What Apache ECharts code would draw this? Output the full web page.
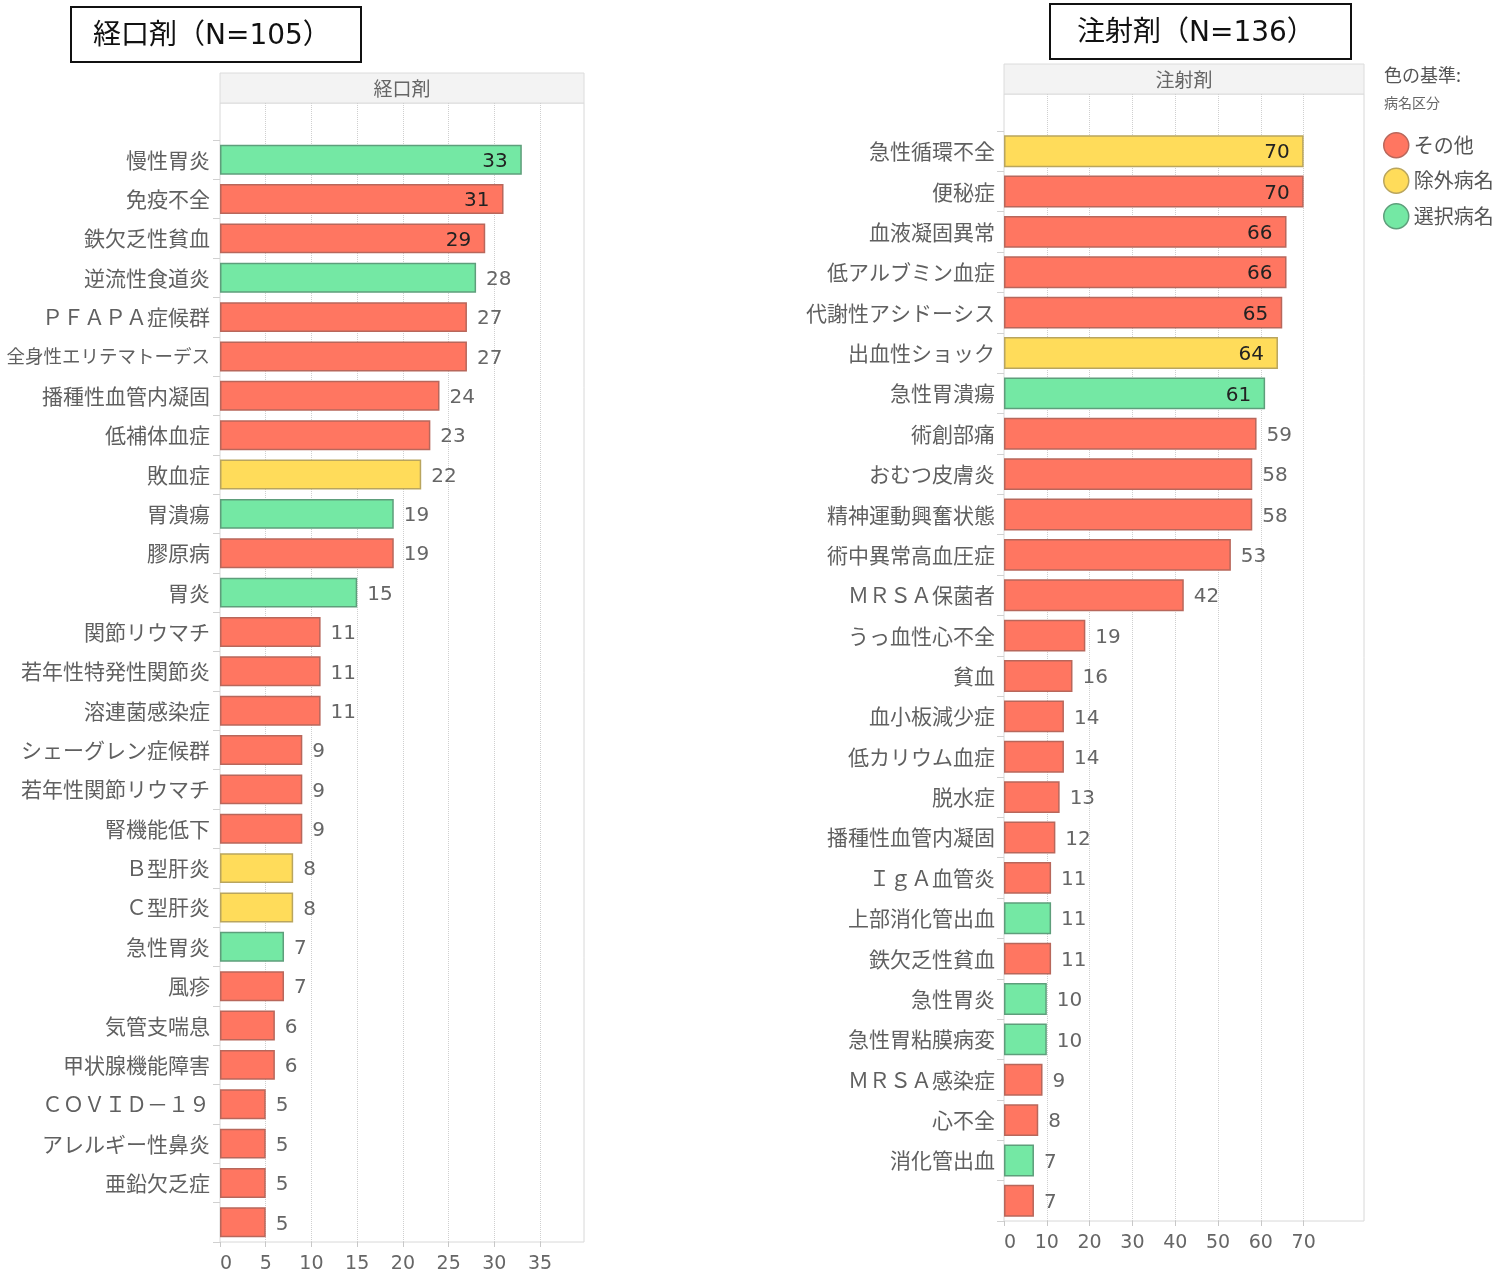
<!DOCTYPE html>
<html><head><meta charset="utf-8">
<script src="https://cdn.jsdelivr.net/npm/echarts@6/dist/echarts.min.js"></script>
<style>html,body{margin:0;padding:0;background:#fff}#c{width:1501px;height:1274px}</style>
</head><body><div id="c"></div>
<script>
// ---- Data ----
const oralCategories = ['慢性胃炎','免疫不全','鉄欠乏性貧血','逆流性食道炎','ＰＦＡＰＡ症候群','全身性エリテマトーデス','播種性血管内凝固','低補体血症','敗血症','胃潰瘍','膠原病','胃炎','関節リウマチ','若年性特発性関節炎','溶連菌感染症','シェーグレン症候群','若年性関節リウマチ','腎機能低下','Ｂ型肝炎','Ｃ型肝炎','急性胃炎','風疹','気管支喘息','甲状腺機能障害','ＣＯＶＩＤ－１９','アレルギー性鼻炎','亜鉛欠乏症',''];
const oralValues = [33,31,29,28,27,27,24,23,22,19,19,15,11,11,11,9,9,9,8,8,7,7,6,6,5,5,5,5];
const oralGroups = ['選択病名','その他','その他','選択病名','その他','その他','その他','その他','除外病名','選択病名','その他','選択病名','その他','その他','その他','その他','その他','その他','除外病名','除外病名','選択病名','その他','その他','その他','その他','その他','その他','その他'];

const injCategories = ['急性循環不全','便秘症','血液凝固異常','低アルブミン血症','代謝性アシドーシス','出血性ショック','急性胃潰瘍','術創部痛','おむつ皮膚炎','精神運動興奮状態','術中異常高血圧症','ＭＲＳＡ保菌者','うっ血性心不全','貧血','血小板減少症','低カリウム血症','脱水症','播種性血管内凝固','ＩｇＡ血管炎','上部消化管出血','鉄欠乏性貧血','急性胃炎','急性胃粘膜病変','ＭＲＳＡ感染症','心不全','消化管出血',''];
const injValues = [70,70,66,66,65,64,61,59,58,58,53,42,19,16,14,14,13,12,11,11,11,10,10,9,8,7,7];
const injGroups = ['除外病名','その他','その他','その他','その他','除外病名','選択病名','その他','その他','その他','その他','その他','その他','その他','その他','その他','その他','その他','その他','選択病名','その他','選択病名','選択病名','その他','その他','選択病名','その他'];

const groupNames = ['その他','除外病名','選択病名'];
const oralTicks = [0,5,10,15,20,25,30,35];
const injTicks = [0,10,20,30,40,50,60,70];

// ---- Styles ----
const FONT = '"Noto Sans CJK JP", "Noto Sans", sans-serif';
const NUMFONT = '"DejaVu Sans", "Noto Sans CJK JP", sans-serif';
const fills = {'その他':'#FF7661','除外病名':'#FFDC5A','選択病名':'#74E8A4'};
const borders = {'その他':'#B8675B','除外病名':'#B9A55E','選択病名':'#5E9E7B'};

const chart = echarts.init(document.getElementById('c'), null, {renderer:'canvas'});

const panels = [
  {cats: oralCategories, vals: oralValues, groups: oralGroups, ticks: oralTicks, max: 39.8,
   left: 220, width: 364, bgTop: 103, barTop: 140, bottom: 1242, catMargin: 10, labelRoom: 205},
  {cats: injCategories, vals: injValues, groups: injGroups, ticks: injTicks, max: 84.1,
   left: 1004, width: 360, bgTop: 94, barTop: 131, bottom: 1221, catMargin: 9, labelRoom: 400}
];

const grids = [], xAxes = [], yAxes = [], series = [], frames = [];
panels.forEach((p, pi) => {
  const step = p.ticks[1] - p.ticks[0];
  const bgIdx = grids.length;
  grids.push({left: p.left, top: p.bgTop, width: p.width, height: p.bottom - p.bgTop, outerBoundsMode: 'none'});
  const barIdx = grids.length;
  grids.push({left: p.left, top: p.barTop, width: p.width, height: p.bottom - p.barTop, outerBoundsMode: 'none'});
  frames.push({type: 'rect', z: 0, silent: true, shape: {x: p.left, y: p.bgTop, width: p.width, height: p.bottom - p.bgTop},
    style: {fill: 'none', stroke: '#d8d8d8', lineWidth: 1}});
  // background axes (grid lines + tick labels)
  xAxes.push({gridIndex: bgIdx, type: 'value', min: 0, max: p.max, interval: step,
    axisLine: {show: false},
    axisTick: {show: true, length: 5, customValues: p.ticks, lineStyle: {color: '#c8c8c8'}},
    axisLabel: {show: true, customValues: p.ticks, alignMinLabel: 'left',
      fontFamily: NUMFONT, fontSize: 19, color: '#666', margin: 13},
    splitLine: {show: true, showMinLine: false, lineStyle: {color: '#cfcfcf', type: 'dotted', width: 1}}});
  yAxes.push({gridIndex: bgIdx, type: 'value', show: false, splitLine: {show: false}});
  // bar axes
  xAxes.push({gridIndex: barIdx, type: 'value', min: 0, max: p.max, show: false, splitLine: {show: false}});
  yAxes.push({gridIndex: barIdx, type: 'category', inverse: true, data: p.cats,
    axisLine: {show: false},
    axisTick: {show: true, length: 7, lineStyle: {color: '#d0d0d0'}},
    axisLabel: {interval: 0, margin: p.catMargin,
      formatter: v => (v.length * 21 > p.labelRoom ? '{s|' : '{n|') + v + '}',
      rich: {n: {fontFamily: FONT, fontSize: 21, color: '#606060'},
             s: {fontFamily: FONT, fontSize: 18.5, color: '#606060'}}}});
  groupNames.forEach(g => {
    const data = p.vals.map((v, i) => {
      if (p.groups[i] !== g) return '-';
      const inside = v / p.max > 0.715;
      return {value: v, label: inside
        ? {position: 'insideRight', color: '#222', distance: 14}
        : {position: 'right', color: '#666', distance: 10}};
    });
    series.push({type: 'bar', name: g, xAxisIndex: barIdx, yAxisIndex: barIdx, stack: 'p' + pi,
      data: data, barCategoryGap: pi === 0 ? '24%' : '21%',
      itemStyle: {color: fills[g], borderColor: borders[g], borderWidth: 1.5},
      label: {show: true, fontFamily: NUMFONT, fontSize: 20, offset: [0, 2]},
      emphasis: {disabled: true}, animation: false});
  });
});

const graphic = frames.concat([
  // title boxes
  {type: 'rect', shape: {x: 71, y: 7, width: 290, height: 55}, style: {fill: '#fff', stroke: '#111', lineWidth: 2}},
  {type: 'text', x: 93, y: 37, style: {text: '経口剤（N=105）', font: '28px ' + NUMFONT, fill: '#111', verticalAlign: 'middle'}},
  {type: 'rect', shape: {x: 1050, y: 4, width: 301, height: 55}, style: {fill: '#fff', stroke: '#111', lineWidth: 2}},
  {type: 'text', x: 1077, y: 34, style: {text: '注射剤（N=136）', font: '28px ' + NUMFONT, fill: '#111', verticalAlign: 'middle'}},
  // header strips
  {type: 'rect', shape: {x: 220, y: 73, width: 364, height: 30}, style: {fill: '#f3f3f3', stroke: '#dcdcdc', lineWidth: 1}},
  {type: 'text', x: 402, y: 89, style: {text: '経口剤', font: '19px ' + FONT, fill: '#666', align: 'center', verticalAlign: 'middle'}},
  {type: 'rect', shape: {x: 1004, y: 64, width: 360, height: 30}, style: {fill: '#f3f3f3', stroke: '#dcdcdc', lineWidth: 1}},
  {type: 'text', x: 1184, y: 80, style: {text: '注射剤', font: '19px ' + FONT, fill: '#666', align: 'center', verticalAlign: 'middle'}},
  // legend title
  {type: 'text', x: 1384, y: 75, style: {text: '色の基準:', font: '18px ' + FONT, fill: '#555', verticalAlign: 'middle'}},
  {type: 'text', x: 1384, y: 103, style: {text: '病名区分', font: '14px ' + FONT, fill: '#666', verticalAlign: 'middle'}}
]);

chart.setOption({
  animation: false,
  textStyle: {fontFamily: FONT},
  grid: grids, xAxis: xAxes, yAxis: yAxes, series: series, graphic: graphic,
  legend: {show: true, data: groupNames, orient: 'vertical', left: 1383, top: 132, padding: 0, icon: 'circle',
    itemWidth: 25, itemHeight: 25, itemGap: 9, selectedMode: false,
    itemStyle: {borderWidth: 1.5},
    textStyle: {fontFamily: FONT, fontSize: 20, color: '#555'}}
});
</script></body></html>
